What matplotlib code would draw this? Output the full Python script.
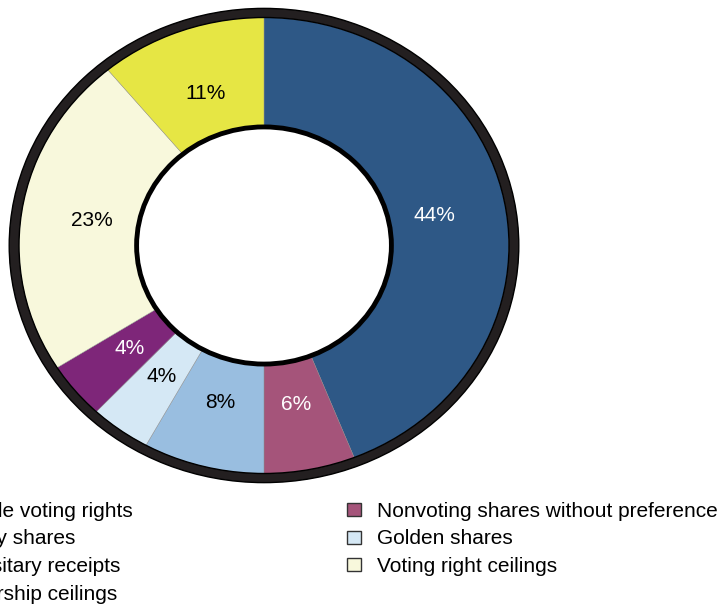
import matplotlib
matplotlib.use("Agg")
import matplotlib.pyplot as plt
from matplotlib.patches import Rectangle, Ellipse

plt.rcParams['font.family'] = ['Liberation Sans', 'DejaVu Sans']

# shares of each control-enhancing mechanism, clockwise from 12 o'clock
labels = ["Multiple voting rights", "Nonvoting shares without preference",
          "Priority shares", "Golden shares", "Depositary receipts",
          "Voting right ceilings", "Ownership ceilings"]
values = [44, 6, 8, 4, 4, 23, 11]
colors = ["#2E5886", "#A5547A", "#99BEE0", "#D5E8F5", "#7E2679",
          "#F8F8DC", "#E6E644"]
text_colors = ["white", "white", "black", "black", "white", "black", "black"]

W, H = 726, 605
fig = plt.figure(figsize=(W / 100, H / 100), dpi=100)
ax = fig.add_axes([0, 0, 1, 1])

# pixel geometry of the ring (center and colored outer radius)
cx, cy, rx, ry = 264, 245.5, 245, 228

wedges, _, pcts = ax.pie(values, colors=colors, startangle=90,
                         counterclock=False, radius=1.0,
                         autopct='%.0f%%', pctdistance=0.71,
                         wedgeprops=dict(width=0.48, linewidth=0.3,
                                         edgecolor="#888888"),
                         textprops=dict(fontsize=15))
for t, c in zip(pcts, text_colors):
    t.set_color(c)

# thick dark rim around the outside
ax.pie([1], radius=1.04, colors=["#231F20"], startangle=90,
       wedgeprops=dict(width=0.04, edgecolor="black", linewidth=1.0))

# black outline of the hole
ax.add_patch(Ellipse((0, 0), 2 * 0.52, 2 * 0.52, fill=False,
                     edgecolor="black", linewidth=3.5, zorder=5))

ax.set_aspect('auto')
ax.set_xlim(-cx / rx, (W - cx) / rx)
ax.set_ylim((cy - H) / ry, cy / ry)
ax.axis('off')

# legend laid out in two columns, row by row
col_x = [-88, 347]
row_base = [517, 544.5, 572, 599.5]
for i, (lab, col) in enumerate(zip(labels, colors)):
    r, c = i // 2, i % 2
    mx = col_x[c]
    fig.add_artist(Rectangle((mx / W, 1 - (row_base[r] - 1) / H), 14 / W, 13 / H,
                             transform=fig.transFigure, facecolor=col,
                             edgecolor="#333333", linewidth=1.0))
    fig.text((mx + 30) / W, 1 - row_base[r] / H, lab, fontsize=15,
             va='baseline', ha='left', color="black")

fig.savefig("out.png", dpi=100)
